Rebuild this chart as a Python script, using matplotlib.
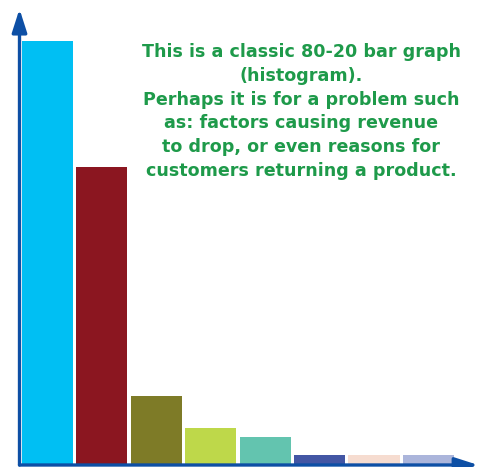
import matplotlib
matplotlib.use("Agg")
import matplotlib.pyplot as plt

# Pareto-style bar values, largest first
categories = ["A", "B", "C", "D", "E", "F", "G", "H"]
values = [100, 70.3, 16.3, 8.7, 6.6, 2.4, 2.4, 2.4]
colors = ["#00BFF3", "#8B1620", "#7E7B27", "#BED84A",
          "#63C4AF", "#4356A4", "#F6DCD0", "#ABB5DB"]

note = ("This is a classic 80-20 bar graph\n"
        "(histogram).\n"
        "Perhaps it is for a problem such\n"
        "as: factors causing revenue\n"
        "to drop, or even reasons for\n"
        "customers returning a product.")

W, H = 480, 467
fig = plt.figure(figsize=(W / 100, H / 100), dpi=100)
fig.patch.set_facecolor("white")

left, right, bottom, top = 19.5, 480, 465, 9
ax = fig.add_axes([left / W, (H - bottom) / H, (right - left) / W, (bottom - top) / H])

xs = list(range(len(categories)))
ax.bar(xs, values, width=0.936, color=colors, zorder=2)
ax.set_xlim(-0.505, 7.945)
ax.set_ylim(0, 107.5)
ax.axis("off")

axis_color = "#0D4FA5"
arrow = dict(arrowstyle="-|>,head_length=1.4,head_width=0.45",
             color=axis_color, lw=2.4, mutation_scale=10,
             shrinkA=0, shrinkB=0)
ax.annotate("", xy=(0, 1), xytext=(0, 0), xycoords="axes fraction",
            arrowprops=arrow, zorder=5)
ax.annotate("", xy=(0.996, 0), xytext=(0, 0), xycoords="axes fraction",
            arrowprops=arrow, zorder=5)

fig.text(301 / W, 1 - 111.5 / H, note, ha="center", va="center",
         multialignment="center", color="#1E9A4A", fontsize=12.6,
         fontweight="bold", family="DejaVu Sans", linespacing=1.42)

fig.savefig("out.png", dpi=100)
